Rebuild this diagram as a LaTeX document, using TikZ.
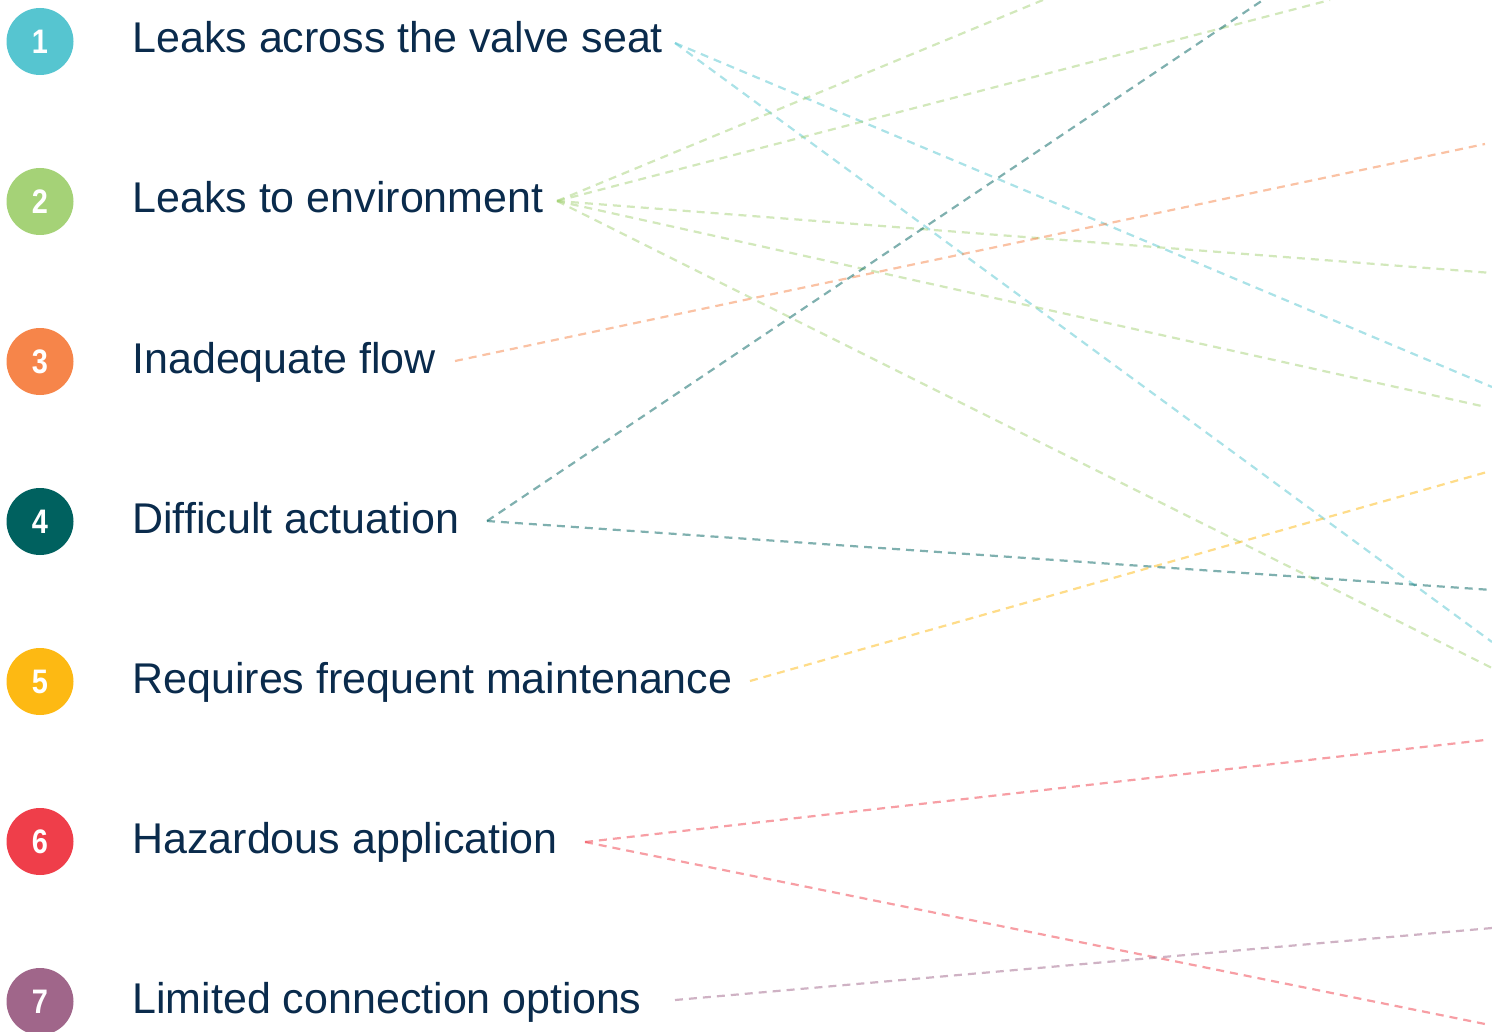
\documentclass[tikz,border=0pt]{standalone}
\usepackage{fontspec}
\setmainfont{Liberation Sans}
\newfontfamily\numfont[FakeStretch=0.85]{Liberation Sans}
\definecolor{c1}{HTML}{56C5D0}
\definecolor{c2}{HTML}{A5D277}
\definecolor{c3}{HTML}{F6854A}
\definecolor{c4}{HTML}{00615F}
\definecolor{c5}{HTML}{FDB913}
\definecolor{c6}{HTML}{EF3E4A}
\definecolor{c7}{HTML}{A0668A}
\definecolor{txt}{HTML}{0A2B4C}
\begin{document}
\begin{tikzpicture}[x=0.5pt,y=-0.5pt,
  num/.style={circle,minimum size=33.5pt,inner sep=0pt,text=white,font=\numfont\bfseries\fontsize{17}{17}\selectfont},
  lbl/.style={anchor=base west,inner sep=0pt,text=txt,font=\fontsize{21.5}{24}\selectfont},
  link/.style={dash pattern=on 4pt off 3pt,line width=1.1pt,draw opacity=0.5}]
\useasboundingbox (0,0) rectangle (1492,1032);
% circles
\node[num,fill=c1] (n1) at (40,41.5) {1};
\node[num,fill=c2] (n2) at (40,201.5) {2};
\node[num,fill=c3] (n3) at (40,361.5) {3};
\node[num,fill=c4] (n4) at (40,521.5) {4};
\node[num,fill=c5] (n5) at (40,681.5) {5};
\node[num,fill=c6] (n6) at (40,841.5) {6};
\node[num,fill=c7] (n7) at (40,1001.5) {7};
% labels
\node[lbl] (t1) at (132,53) {Leaks across the valve seat};
\node[lbl] (t2) at (132,213) {Leaks to environment};
\node[lbl] (t3) at (132,373) {Inadequate flow};
\node[lbl] (t4) at (132,533) {Difficult actuation};
\node[lbl] (t5) at (132,693) {Requires frequent maintenance};
\node[lbl] (t6) at (132,853) {Hazardous application};
\node[lbl] (t7) at (132,1013) {Limited connection options};
% start points
\coordinate (s1) at (675,43);
\coordinate (s2) at (557,201);
\coordinate (s3) at (455,361);
\coordinate (s4) at (487,521);
\coordinate (s5) at (750,681);
\coordinate (s6) at (585,842);
\coordinate (s7) at (675,1000);
% end points
\coordinate (e1a) at (1492,387);
\coordinate (e1b) at (1492,642);
\coordinate (e2a) at (1043,0);
\coordinate (e2b) at (1330,0);
\coordinate (e2c) at (1492,273);
\coordinate (e2d) at (1486,407);
\coordinate (e2e) at (1492,668);
\coordinate (e3) at (1485,144);
\coordinate (e4a) at (1263,0);
\coordinate (e4b) at (1492,590);
\coordinate (e5) at (1487,472);
\coordinate (e6a) at (1485,740);
\coordinate (e6b) at (1490,1025);
\coordinate (e7) at (1492,928);
% links
\draw[link,c1] (s1) -- (e1a);
\draw[link,c1] (s1) -- (e1b);
\draw[link,c2] (s2) -- (e2a);
\draw[link,c2] (s2) -- (e2b);
\draw[link,c2] (s2) -- (e2c);
\draw[link,c2] (s2) -- (e2d);
\draw[link,c2] (s2) -- (e2e);
\draw[link,c3] (s3) -- (e3);
\draw[link,c4] (s4) -- (e4a);
\draw[link,c4] (s4) -- (e4b);
\draw[link,c5] (s5) -- (e5);
\draw[link,c6] (s6) -- (e6a);
\draw[link,c6] (s6) -- (e6b);
\draw[link,c7] (s7) -- (e7);
\end{tikzpicture}
\end{document}
